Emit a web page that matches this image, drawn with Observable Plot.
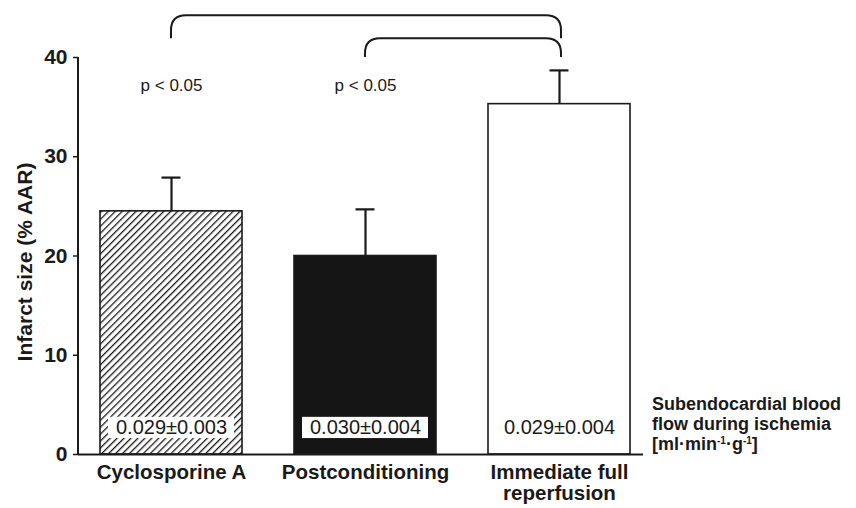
<!DOCTYPE html>
<html>
<head>
<meta charset="utf-8">
<script src="https://cdn.jsdelivr.net/npm/d3@7"></script>
<script src="https://cdn.jsdelivr.net/npm/@observablehq/plot@0.6"></script>
<style>
  html, body { margin: 0; padding: 0; background: #fff; }
  #wrap { position: relative; width: 856px; height: 508px; font-family: "Liberation Sans", Arial, Helvetica, sans-serif; }
  #legend { position: absolute; left: 652px; top: 394px; font-size: 18px; font-weight: bold; line-height: 20px; color: #1a1a1a; white-space: nowrap; }
  #legend sup { font-size: 10px; vertical-align: 6px; line-height: 0; }
</style>
</head>
<body>
<div id="wrap"><div id="legend">Subendocardial blood<br>flow during ischemia<br>[ml·min<sup>-1</sup>·g<sup>-1</sup>]</div></div>
<script>
// ---- data ----
const groups = ["Cyclosporine A", "Postconditioning", "Immediate full reperfusion"];
const groupLabels = ["Cyclosporine A", "Postconditioning", "Immediate full\nreperfusion"];
const infarctSize = [24.5, 20.0, 35.3];
const infarctSizeUpper = [27.9, 24.7, 38.7];
const bloodFlow = ["0.029±0.003", "0.030±0.004", "0.029±0.004"];
const fills = ["url(#hatch)", "#151515", "#ffffff"];
const boxed = [true, true, false];
const yTicks = [0, 10, 20, 30, 40];
const comparisons = [
  {from: "Cyclosporine A", to: "Immediate full reperfusion", top: 44.2, bottom: 41.9, text: "p < 0.05"},
  {from: "Postconditioning", to: "Immediate full reperfusion", top: 41.9, bottom: 40.0, text: "p < 0.05"}
];

const data = groups.map((g, i) => ({
  group: g, value: infarctSize[i], upper: infarctSizeUpper[i],
  flow: bloodFlow[i], fill: fills[i], boxed: boxed[i]
}));
const labelOf = new Map(groups.map((g, i) => [g, groupLabels[i]]));

const ink = "#1a1a1a";
const font = "Liberation Sans, Arial, Helvetica, sans-serif";

// pattern definition mark
const defsMark = () => {
  const svg = d3.create("svg:g");
  const defs = svg.append("defs");
  const s = 4.9;
  const p = defs.append("pattern")
    .attr("id", "hatch").attr("patternUnits", "userSpaceOnUse")
    .attr("width", s).attr("height", s)
    .attr("patternTransform", "rotate(45)");
  p.append("rect").attr("width", s).attr("height", s).attr("fill", "#fff");
  p.append("line").attr("x1", 0).attr("y1", 0).attr("x2", 0).attr("y2", s)
    .attr("stroke", ink).attr("stroke-width", 2.6);
  return svg.node();
};

// y-axis line mark
const yAxisLine = (index, scales, values, dims) => {
  const g = d3.create("svg:g");
  g.append("line")
    .attr("x1", dims.marginLeft).attr("x2", dims.marginLeft)
    .attr("y1", scales.y(yTicks[yTicks.length - 1])).attr("y2", scales.y(0))
    .attr("stroke", ink).attr("stroke-width", 2);
  return g.node();
};

// brackets with rounded corners
const brackets = (index, scales, values, dims) => {
  const g = d3.create("svg:g").attr("fill", "none").attr("stroke", ink).attr("stroke-width", 2);
  const bw = scales.x.bandwidth ? scales.x.bandwidth() : 0;
  const cx = (v) => scales.x(v) + bw / 2;
  for (const c of comparisons) {
    const x1 = cx(c.from), x2 = cx(c.to) + 2;
    const yt = scales.y(c.top), yb = scales.y(c.bottom);
    const r = Math.min(15, (yb - yt));
    g.append("path").attr("d",
      `M${x1},${yb} L${x1},${yt + r} Q${x1},${yt} ${x1 + r},${yt} L${x2 - r},${yt} Q${x2},${yt} ${x2},${yt + r} L${x2},${yb}`);
  }
  return g.node();
};

const chart = Plot.plot({
  width: 856,
  height: 508,
  marginTop: 57,
  marginBottom: 54,
  marginLeft: 78,
  marginRight: 213,
  style: {fontFamily: font, color: ink, background: "transparent"},
  x: {type: "band", domain: groups, paddingInner: 0.267, paddingOuter: 0.085, align: 0.64, label: null},
  y: {domain: [0, 40], label: null},
  color: {type: "identity"},
  marks: [
    defsMark,
    Plot.barY(data, {x: "group", y: "value", fill: "fill", stroke: ink, strokeWidth: 1.6}),
    Plot.barY(data.filter(d => d.boxed), {x: "group", y1: 0.8, y2: 4.55, fill: "#ffffff", inset: 8}),
    Plot.text(data, {x: "group", y: 2.7, text: "flow", fontSize: 20, fill: ink}),
    Plot.ruleX(data, {x: "group", y1: "value", y2: "upper", stroke: ink, strokeWidth: 2.2}),
    Plot.tickY(data, {x: "group", y: "upper", stroke: ink, strokeWidth: 2.2, insetLeft: 61.5, insetRight: 61.5}),
    Plot.ruleY([0], {stroke: ink, strokeWidth: 2}),
    yAxisLine,
    brackets,
    Plot.text(comparisons, {x: "from", y: 37.2, text: "text", fontSize: 17, fill: ink}),
    Plot.axisY({ticks: yTicks, tickSize: 5, tickPadding: 6, fontSize: 21, fontWeight: "bold", stroke: ink, strokeWidth: 1.5, fill: ink, label: null}),
    Plot.text(["Infarct size (% AAR)"], {frameAnchor: "left", textAnchor: "middle", lineAnchor: "middle", text: d => d, rotate: -90, dx: -53, dy: 6, fontSize: 21, fontWeight: "bold", fill: ink}),
    Plot.axisX({tickSize: 0, tickPadding: 9, fontSize: 20.5, fontWeight: "bold", lineHeight: 1.04, fill: ink, tickFormat: d => labelOf.get(d), label: null})
  ]
});
document.getElementById("wrap").prepend(chart);
chart.style.position = "absolute";
chart.style.left = "0";
chart.style.top = "0";
</script>
</body>
</html>
